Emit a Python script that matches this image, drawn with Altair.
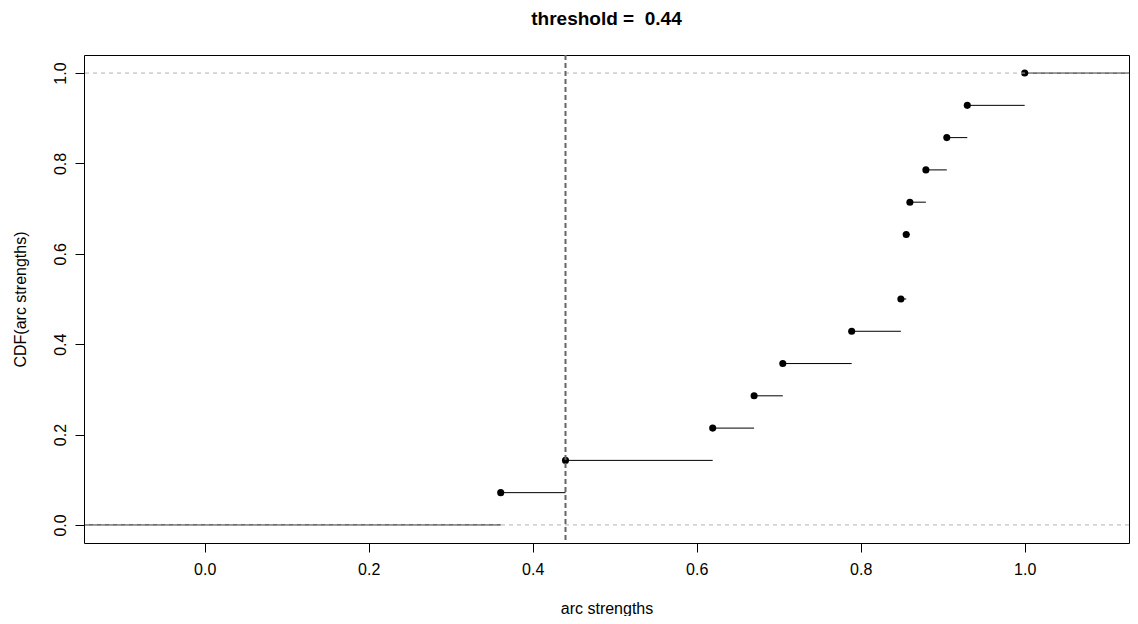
import altair as alt
import pandas as pd

# ---- data ----
arc_strengths = [0.361, 0.440, 0.6195, 0.670, 0.705, 0.789, 0.849,
                 0.8555, 0.8555, 0.860, 0.8795, 0.905, 0.930, 1.0]
threshold = 0.44
x_domain = [-0.1472, 1.1272]
y_domain = [-0.04, 1.04]
x_ticks = [0.0, 0.2, 0.4, 0.6, 0.8, 1.0]
y_ticks = [0.0, 0.2, 0.4, 0.6, 0.8, 1.0]
ref_levels = [0.0, 1.0]

# ---- empirical CDF built from the values ----
n = len(arc_strengths)
knots = sorted(set(arc_strengths))
cdf = [sum(v <= k for v in arc_strengths) / n for k in knots]

seg_rows = [{"x": x_domain[0], "x2": knots[0], "y": 0.0}]
for i, k in enumerate(knots):
    end = knots[i + 1] if i + 1 < len(knots) else x_domain[1]
    seg_rows.append({"x": k, "x2": end, "y": cdf[i]})
seg_df = pd.DataFrame(seg_rows)
pts_df = pd.DataFrame({"x": knots, "y": cdf})
ref_df = pd.DataFrame({"y": ref_levels})
thr_df = pd.DataFrame({"x": [threshold]})

xscale = alt.Scale(domain=x_domain, nice=False, zero=False)
yscale = alt.Scale(domain=y_domain, nice=False, zero=False)

xaxis = alt.Axis(values=x_ticks, format=".1f", title="arc strengths",
                 labelFontSize=16, titleFontSize=16, titleFontWeight="normal",
                 tickSize=9, tickColor="black", domain=False, grid=False,
                 labelPadding=9, labelColor="black", titleColor="black",
                 titleY=65, titleBaseline="middle")
yaxis = alt.Axis(values=y_ticks, format=".1f", title="CDF(arc strengths)",
                 labelFontSize=16, titleFontSize=16, titleFontWeight="normal",
                 tickSize=9, tickColor="black", domain=False, grid=False,
                 labelAngle=-90, labelAlign="center", labelBaseline="bottom",
                 labelPadding=7, labelColor="black", titleColor="black",
                 titleX=-64, titleY=244, titleBaseline="middle", titleAngle=-90)

segs = alt.Chart(seg_df).mark_rule(color="black", strokeWidth=1, clip=True).encode(
    x=alt.X("x:Q", scale=xscale, axis=xaxis),
    x2="x2:Q",
    y=alt.Y("y:Q", scale=yscale, axis=yaxis),
)

pts = alt.Chart(pts_df).mark_circle(color="black", size=50, opacity=1, clip=True).encode(
    x=alt.X("x:Q", scale=xscale),
    y=alt.Y("y:Q", scale=yscale),
)

refs = alt.Chart(ref_df).mark_rule(color="#b3b3b3", strokeWidth=1,
                                   strokeDash=[4, 4]).encode(
    y=alt.Y("y:Q", scale=yscale),
)

thr = alt.Chart(thr_df).mark_rule(color="#666666", strokeWidth=2,
                                  strokeDash=[5, 3]).encode(
    x=alt.X("x:Q", scale=xscale),
)

chart = alt.layer(segs, pts, refs, thr).properties(
    width=1045,
    height=488,
    padding={"left": 76, "top": 47, "right": 1, "bottom": 73},
    autosize=alt.AutoSizeParams(type="none"),
    title=alt.TitleParams("threshold =\u00a0 0.44", fontSize=19, fontWeight="bold",
                          anchor="middle", offset=25, color="black"),
).configure(
    font="Liberation Sans",
).configure_view(
    stroke="black", strokeWidth=1,
)

chart.save("out.html", embed_options={"renderer": "svg", "actions": False})
